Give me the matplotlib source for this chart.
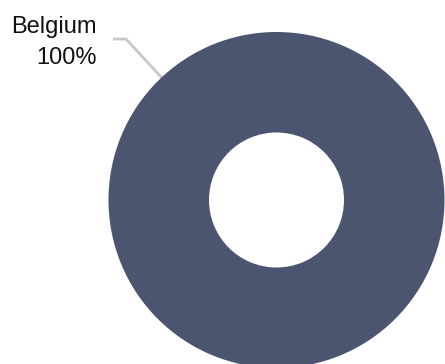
import matplotlib.pyplot as plt

# share of total by country
countries = ["Belgium"]
shares = [100]

slice_color = "#4b556f"
leader_color = "#c8c8c8"

fig = plt.figure(figsize=(4.45, 3.64), dpi=100)
ax = fig.add_axes([0, 0, 1, 1])
ax.axis("off")

ax.pie(shares, colors=[slice_color], radius=168, center=(276.5, 200),
       startangle=90, counterclock=False,
       wedgeprops=dict(width=100.5, linewidth=0))
ax.set_xlim(0, 445)
ax.set_ylim(364, 0)
ax.set_aspect("equal")

# leader line and label (name and percentage on separate baselines)
ax.plot([113, 126, 162], [39, 39, 78], color=leader_color, lw=2,
        solid_capstyle="butt", zorder=0)
label_font = dict(ha="right", va="baseline", fontsize=17,
                  family="Liberation Sans", color="#111111")
ax.text(97, 33.5, countries[0], **label_font)
ax.text(97, 64.5, f"{shares[0]}%", **label_font)

fig.savefig("out.png", dpi=100)
